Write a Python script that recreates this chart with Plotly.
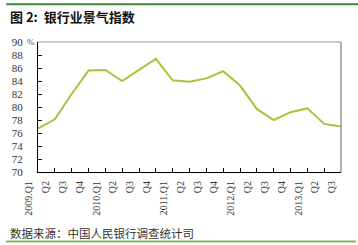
import plotly.graph_objects as go

quarters = ["2009.Q1", "Q2", "Q3", "Q4", "2010.Q1", "Q2", "Q3", "Q4",
            "2011.Q1", "Q2", "Q3", "Q4", "2012.Q1", "Q2", "Q3", "Q4",
            "2013.Q1", "Q2", "Q3"]
index_values = [76.7, 78.1, 82.0, 85.6, 85.7, 84.0, 85.7, 87.4,
                84.1, 83.9, 84.4, 85.5, 83.3, 79.7, 78.0, 79.2,
                79.8, 77.4, 77.0]
y_ticks = list(range(70, 91, 2))

title_text = "<b>图 2:  银行业景气指数</b>"
source_text = "数据来源：中国人民银行调查统计司"

xpos = list(range(len(quarters)))

fig = go.Figure()
fig.add_trace(go.Scatter(
    x=xpos, y=index_values, mode="lines",
    line=dict(color="#a9c23c", width=2),
    hoverinfo="skip", showlegend=False,
))

tick_font = dict(family="Liberation Serif", size=10, color="#333333")

fig.update_layout(
    width=358, height=245,
    margin=dict(l=36, r=17, t=42, b=73),
    paper_bgcolor="white", plot_bgcolor="white",
    showlegend=False,
    xaxis=dict(
        range=[0, len(quarters) - 1],
        tickmode="array", tickvals=xpos, ticktext=quarters,
        tickangle=-90, ticks="inside", ticklen=4, tickcolor="black",
        showline=True, linecolor="black", linewidth=1,
        showgrid=False, zeroline=False,
        tickfont=tick_font, ticklabelshift=-9, ticklabelstandoff=4,
        fixedrange=True,
    ),
    yaxis=dict(
        range=[70, 90], tickvals=y_ticks,
        ticks="inside", ticklen=4, tickcolor="black",
        showline=True, linecolor="black", linewidth=1,
        showgrid=False, zeroline=False,
        tickfont=dict(family="Liberation Serif", size=11, color="#333333"),
        ticklabelstandoff=12,
        fixedrange=True,
    ),
    shapes=[
        dict(type="line", xref="paper", yref="paper", x0=0, x1=1, y0=1, y1=1,
             line=dict(color="#999999", width=1)),
        dict(type="line", xref="paper", yref="paper", x0=1, x1=1, y0=0, y1=1,
             line=dict(color="#999999", width=1.5)),
        dict(type="line", xref="paper", yref="paper", x0=-0.105, x1=1.06,
             y0=1.29, y1=1.29, line=dict(color="#3f8a3a", width=2)),
        dict(type="line", xref="paper", yref="paper", x0=-0.105, x1=1.05,
             y0=-0.535, y1=-0.535, line=dict(color="#7fb55e", width=2)),
    ],
    annotations=[
        dict(text=title_text, xref="paper", yref="paper", x=-0.1, y=1.2,
             xanchor="left", yanchor="middle", showarrow=False,
             font=dict(family="Noto Sans CJK SC", size=13, color="#111111")),
        dict(text=source_text, xref="paper", yref="paper", x=-0.1, y=-0.47,
             xanchor="left", yanchor="middle", showarrow=False,
             font=dict(family="Noto Sans CJK SC", size=11.5, color="#333333")),
        dict(text="%", xref="paper", yref="y", x=-0.022, y=90,
             xanchor="center", yanchor="middle", showarrow=False,
             font=dict(family="Liberation Serif", size=9, color="#555555")),
    ],
)

fig.write_html("out.html")
